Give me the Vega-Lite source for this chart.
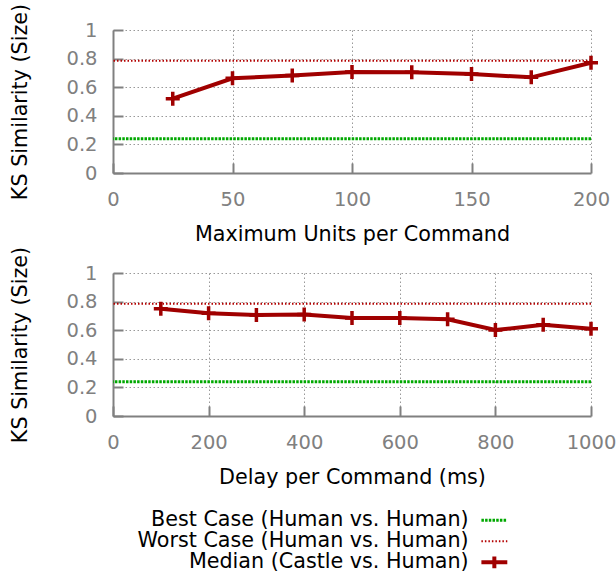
{
  "$schema": "https://vega.github.io/schema/vega-lite/v6.json",
  "background": "white",
  "padding": {"left": 9, "top": 3, "right": 0, "bottom": 2},
  "bounds": "flush",
  "spacing": 100,
  "config": {
    "font": "DejaVu Sans",
    "view": {"stroke": null},
    "axis": {
      "labelFont": "DejaVu Sans", "labelFontSize": 19.5, "labelColor": "#808080",
      "labelOverlap": false, "labelFlush": false, "labelBound": false,
      "titleFont": "DejaVu Sans", "titleFontSize": 20.7, "titleFontWeight": "normal", "titleColor": "#000000",
      "domainColor": "#808080", "domainWidth": 2,
      "ticks": true, "tickColor": "#808080", "tickWidth": 2, "tickSize": -10,
      "grid": true, "gridColor": "#999999", "gridDash": [1.5, 2.5], "gridWidth": 1
    }
  },
  "datasets": {
    "units": [
      {"units": 25, "ks": 0.520, "series": "Median (Castle vs. Human)"},
      {"units": 50, "ks": 0.662, "series": "Median (Castle vs. Human)"},
      {"units": 75, "ks": 0.681, "series": "Median (Castle vs. Human)"},
      {"units": 100, "ks": 0.706, "series": "Median (Castle vs. Human)"},
      {"units": 125, "ks": 0.704, "series": "Median (Castle vs. Human)"},
      {"units": 150, "ks": 0.692, "series": "Median (Castle vs. Human)"},
      {"units": 175, "ks": 0.669, "series": "Median (Castle vs. Human)"},
      {"units": 200, "ks": 0.771, "series": "Median (Castle vs. Human)"}
    ],
    "delay": [
      {"delay": 100, "ks": 0.750, "series": "Median (Castle vs. Human)"},
      {"delay": 200, "ks": 0.718, "series": "Median (Castle vs. Human)"},
      {"delay": 300, "ks": 0.706, "series": "Median (Castle vs. Human)"},
      {"delay": 400, "ks": 0.709, "series": "Median (Castle vs. Human)"},
      {"delay": 500, "ks": 0.685, "series": "Median (Castle vs. Human)"},
      {"delay": 600, "ks": 0.686, "series": "Median (Castle vs. Human)"},
      {"delay": 700, "ks": 0.676, "series": "Median (Castle vs. Human)"},
      {"delay": 800, "ks": 0.601, "series": "Median (Castle vs. Human)"},
      {"delay": 900, "ks": 0.638, "series": "Median (Castle vs. Human)"},
      {"delay": 1000, "ks": 0.610, "series": "Median (Castle vs. Human)"}
    ],
    "ref": [
      {"series": "Best Case (Human vs. Human)", "ks": 0.24},
      {"series": "Worst Case (Human vs. Human)", "ks": 0.785}
    ]
  },
  "vconcat": [
    {
      "width": 478, "height": 143,
      "encoding": {
        "y": {"field": "ks", "type": "quantitative", "title": "KS Similarity (Size)",
              "scale": {"domain": [0, 1], "nice": false},
              "axis": {"values": [0, 0.2, 0.4, 0.6, 0.8, 1], "format": "~g", "labelPadding": 26, "titlePadding": 35, "tickSize": -10}},
        "color": {"field": "series", "type": "nominal"}
      },
      "layer": [
        {
          "data": {"name": "ref"},
          "transform": [{"filter": "datum.series === 'Best Case (Human vs. Human)'"}],
          "mark": {"type": "rule", "strokeWidth": 3, "strokeDash": [2.5, 1.2]}
        },
        {
          "data": {"name": "ref"},
          "transform": [{"filter": "datum.series === 'Worst Case (Human vs. Human)'"}],
          "mark": {"type": "rule", "strokeWidth": 2, "strokeDash": [1.5, 2]}
        },
        {
          "data": {"name": "units"},
          "mark": {"type": "line", "strokeWidth": 4, "point": {"shape": "M-1,0H1M0,-1V1", "size": 196, "filled": false, "strokeWidth": 3.5}},
          "encoding": {
            "x": {"field": "units", "type": "quantitative", "title": "Maximum Units per Command",
                  "scale": {"domain": [0, 200], "nice": false},
                  "axis": {"values": [0, 50, 100, 150, 200], "format": "d", "labelPadding": 27, "titlePadding": 16, "tickSize": -10}}
          }
        }
      ]
    },
    {
      "width": 478, "height": 143,
      "encoding": {
        "y": {"field": "ks", "type": "quantitative", "title": "KS Similarity (Size)",
              "scale": {"domain": [0, 1], "nice": false},
              "axis": {"values": [0, 0.2, 0.4, 0.6, 0.8, 1], "format": "~g", "labelPadding": 26, "titlePadding": 35, "tickSize": -10}},
        "color": {"field": "series", "type": "nominal",
          "scale": {"domain": ["Best Case (Human vs. Human)", "Worst Case (Human vs. Human)", "Median (Castle vs. Human)"],
                    "range": ["#00a800", "#b40000", "#a00000"]},
          "legend": {
            "title": null, "orient": "none", "legendX": 371, "legendY": 480, "direction": "vertical",
            "symbolSize": 196, "symbolStrokeWidth": 3,
            "labelFont": "DejaVu Sans", "labelFontSize": 20.7, "labelColor": "#000000",
            "labelAlign": "right", "labelOffset": -36, "labelLimit": 0, "rowPadding": -4,
            "encode": {"symbols": {"update": {
              "shape": {"signal": "datum.value === 'Median (Castle vs. Human)' ? 'M-1.85,0H1.85M0,-0.85V0.85' : 'M-1.85,0H1.85'"},
              "strokeDash": {"signal": "datum.value === 'Best Case (Human vs. Human)' ? [2.5,1.2] : datum.value === 'Worst Case (Human vs. Human)' ? [1.5,2] : [1,0]"},
              "strokeWidth": {"signal": "datum.value === 'Median (Castle vs. Human)' ? 4 : datum.value === 'Best Case (Human vs. Human)' ? 3 : 2"},
              "stroke": {"scale": "color", "field": "value"},
              "fill": {"value": "transparent"}
            }}}
          }}
      },
      "layer": [
        {
          "data": {"name": "ref"},
          "transform": [{"filter": "datum.series === 'Best Case (Human vs. Human)'"}],
          "mark": {"type": "rule", "strokeWidth": 3, "strokeDash": [2.5, 1.2]}
        },
        {
          "data": {"name": "ref"},
          "transform": [{"filter": "datum.series === 'Worst Case (Human vs. Human)'"}],
          "mark": {"type": "rule", "strokeWidth": 2, "strokeDash": [1.5, 2]}
        },
        {
          "data": {"name": "delay"},
          "mark": {"type": "line", "strokeWidth": 4, "point": {"shape": "M-1,0H1M0,-1V1", "size": 196, "filled": false, "strokeWidth": 3.5}},
          "encoding": {
            "x": {"field": "delay", "type": "quantitative", "title": "Delay per Command (ms)",
                  "scale": {"domain": [0, 1000], "nice": false},
                  "axis": {"values": [0, 200, 400, 600, 800, 1000], "format": "d", "labelPadding": 27, "titlePadding": 16, "tickSize": -10}}
          }
        }
      ]
    }
  ],
  "resolve": {"scale": {"color": "shared"}}
}
